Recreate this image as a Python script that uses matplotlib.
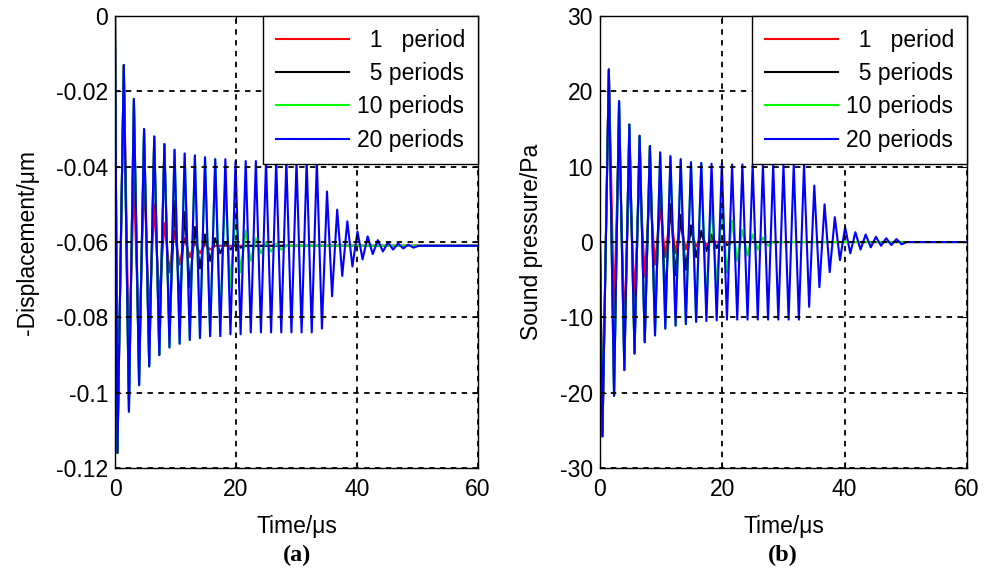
"""
Transient response of a transducer to tone bursts of 1, 5, 10 and 20 periods.
(a) surface displacement, (b) radiated sound pressure.
"""
import matplotlib
matplotlib.use('Agg')
import matplotlib.pyplot as plt

# extremum times (us): start, then alternating minimum / maximum
T_EXT = [0.0, 0.4, 1.45, 2.3, 3.12, 3.98, 4.8, 5.65, 6.48, 7.32,
         8.16, 9.0, 9.84, 10.68, 11.52, 12.36, 13.2, 14.04, 14.88, 15.72,
         16.56, 17.4, 18.24, 19.08, 19.92, 20.76, 21.6, 22.44, 23.28, 24.12,
         24.96, 25.8, 26.64, 27.48, 28.32, 29.16, 30.0, 30.84, 31.68, 32.52,
         33.36, 34.2, 35.04, 35.88, 36.72, 37.56, 38.4, 39.24, 40.08, 40.92,
         41.76, 42.6, 43.44, 44.28, 45.12, 45.96, 46.8, 47.64, 48.48, 49.32,
         50.16]
T_END = 60.0

# (a) -displacement (um) at the extremum times
DISP_1 = [0.0, -0.116, -0.013, -0.092, -0.043, -0.089, -0.042, -0.080, -0.050, -0.075,
          -0.055, -0.068, -0.057, -0.066, -0.059, -0.064, -0.060, -0.063, -0.0605, -0.062,
          -0.061]
DISP_5 = [0.0, -0.116, -0.013, -0.105, -0.022, -0.098, -0.030, -0.093, -0.032, -0.090,
          -0.034, -0.085, -0.049, -0.077, -0.052, -0.072, -0.056, -0.067, -0.058, -0.065,
          -0.059, -0.063, -0.060, -0.062, -0.0605, -0.0615, -0.061]
DISP_10 = [0.0, -0.116, -0.013, -0.105, -0.022, -0.098, -0.030, -0.093, -0.032, -0.090,
           -0.034, -0.088, -0.0355, -0.087, -0.0365, -0.086, -0.037, -0.0855, -0.0375, -0.085,
           -0.038, -0.081, -0.045, -0.072, -0.052, -0.068, -0.057, -0.065, -0.059, -0.063,
           -0.060, -0.0625, -0.0605, -0.062, -0.061]
DISP_20 = [0.0, -0.116, -0.013, -0.105, -0.022, -0.098, -0.030, -0.093, -0.032, -0.090,
           -0.034, -0.088, -0.0355, -0.087, -0.0365, -0.086, -0.037, -0.0855, -0.0375, -0.085,
           -0.038, -0.085, -0.038, -0.0845, -0.0385, -0.0845, -0.0385, -0.084, -0.0385, -0.084,
           -0.0385, -0.084, -0.0385, -0.084, -0.0385, -0.084, -0.0385, -0.084, -0.0385, -0.084,
           -0.0385, -0.083, -0.0466, -0.0744, -0.0514, -0.069, -0.0545, -0.0665, -0.0572, -0.0646,
           -0.0585, -0.0632, -0.0595, -0.0625, -0.0601, -0.062, -0.0604, -0.0617, -0.0607, -0.0615,
           -0.061]
DISP_REST = -0.061

# (b) sound pressure (Pa) at the extremum times
PRES_1 = [0.0, -25.8, 22.9, -9.5, 15.5, -11.5, 9.5, -7.5, 9.0, -4.6,
          6.8, -3.0, 4.5, -2.0, 4.0, -1.5, 2.5, -1.0, 1.5, -0.6,
          1.0, -0.4, 0.3, 0.0]
PRES_5 = [0.0, -25.8, 22.9, -20.4, 18.7, -17.0, 15.6, -14.8, 14.1, -13.3,
          12.75, -11.0, 8.8, -7.5, 5.0, -4.4, 3.6, -3.7, 2.2, -2.0,
          1.5, -1.2, 1.0, -0.8, 0.6, -0.4, 0.0]
PRES_10 = [0.0, -25.8, 22.9, -20.4, 18.7, -17.0, 15.6, -14.8, 14.1, -13.3,
           12.75, -12.4, 11.9, -11.5, 11.4, -11.1, 11.0, -10.9, 10.6, -10.6,
           10.5, -8.0, 5.5, -6.2, 5.0, -4.1, 2.8, -2.5, 1.6, -1.8,
           1.0, -1.0, 0.6, -0.5, 0.0]
PRES_20 = [0.0, -25.8, 22.9, -20.4, 18.7, -17.0, 15.6, -14.8, 14.1, -13.3,
           12.75, -12.4, 11.9, -11.5, 11.4, -11.1, 11.0, -10.9, 10.6, -10.6,
           10.5, -10.5, 10.4, -10.4, 10.4, -10.3, 10.3, -10.3, 10.3, -10.3,
           10.3, -10.3, 10.3, -10.3, 10.3, -10.3, 10.3, -10.3, 10.3, -10.3,
           10.3, -8.6, 7.5, -6.0, 5.0, -4.0, 3.3, -2.4, 2.0, -1.5,
           1.3, -1.0, 1.0, -0.7, 0.7, -0.5, 0.5, -0.4, 0.4, -0.3,
           0.0]
PRES_REST = 0.0

LABELS = ['  1   period', '  5 periods', '10 periods', '20 periods']
COLORS = ['#ff0000', '#000000', '#00ff00', '#0000ff']

X_TICKS = [0, 20, 40, 60]
DISP_TICKS = [0, -0.02, -0.04, -0.06, -0.08, -0.1, -0.12]
DISP_TICKLABELS = ['0', '-0.02', '-0.04', '-0.06', '-0.08', '-0.1', '-0.12']
PRES_TICKS = [30, 20, 10, 0, -10, -20, -30]
PRES_TICKLABELS = ['30', '20', '10', '0', '-10', '-20', '-30']

plt.rcParams['font.family'] = ['Liberation Sans', 'DejaVu Sans']
plt.rcParams['font.size'] = 16.5
plt.rcParams['axes.unicode_minus'] = False


def draw_panel(ax, series, rest, yticks, yticklabels, ylabel):
    """Plot the four burst responses with MATLAB-like styling."""
    for vals, color, label in zip(series, COLORS, LABELS):
        t = T_EXT[:len(vals)] + [T_END]
        y = vals + [rest]
        ax.plot(t, y, color=color, linewidth=1.5, label=label)

    ax.set_xlim(0, 60)
    ax.set_ylim(min(yticks), max(yticks))
    ax.set_xticks(X_TICKS)
    ax.set_xticklabels([str(v) for v in X_TICKS])
    ax.set_yticks(yticks)
    ax.set_yticklabels(yticklabels)
    ax.tick_params(direction='in', length=4, width=0.8, top=True, right=True)
    ax.tick_params(axis='x', pad=7)
    ax.tick_params(axis='y', pad=5)
    ax.grid(True, color='black', linestyle=(0, (3, 3)), linewidth=1.3)
    ax.set_axisbelow(False)
    for sp in ax.spines.values():
        sp.set_linewidth(1.0)
    ax.set_xlabel('Time/μs', labelpad=10)
    ax.set_ylabel(ylabel, labelpad=12)

    leg = ax.legend(loc='upper right', borderaxespad=0, fancybox=False,
                    edgecolor='black', framealpha=1, handlelength=3.2,
                    handletextpad=0.35, labelspacing=0.45, borderpad=0.55,
                    fontsize=16.5)
    leg.get_frame().set_linewidth(1.0)


fig = plt.figure(figsize=(9.95, 5.73), dpi=100)
ax_a = fig.add_axes([0.1156, 0.1832, 0.3648, 0.7888])
ax_b = fig.add_axes([0.6030, 0.1832, 0.3688, 0.7888])

draw_panel(ax_a, [DISP_1, DISP_5, DISP_10, DISP_20], DISP_REST,
           DISP_TICKS, DISP_TICKLABELS, '-Displacement/μm')
draw_panel(ax_b, [PRES_1, PRES_5, PRES_10, PRES_20], PRES_REST,
           PRES_TICKS, PRES_TICKLABELS, 'Sound pressure/Pa')

fig.text(0.2985, 0.03, '(a)', family='Liberation Serif', fontweight='bold',
         fontsize=17.5, ha='center', va='center')
fig.text(0.787, 0.03, '(b)', family='Liberation Serif', fontweight='bold',
         fontsize=17.5, ha='center', va='center')

fig.savefig('out.png', dpi=100)
